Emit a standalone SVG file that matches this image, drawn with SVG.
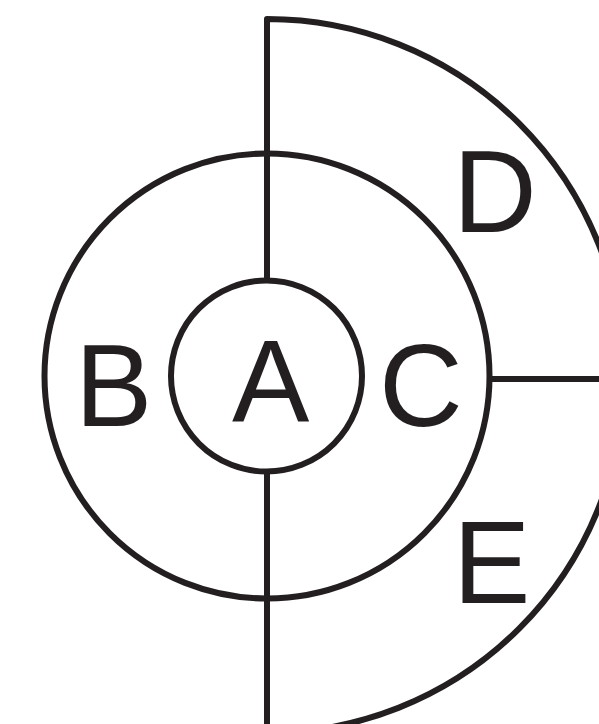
<svg xmlns="http://www.w3.org/2000/svg" width="599" height="724" viewBox="0 0 599 724">
<style>
.ln{fill:none;stroke:#231f20;stroke-width:6;stroke-linejoin:round}
.lb{font-family:"Liberation Sans",Arial,sans-serif;font-size:116px;fill:#231f20}
</style>
<rect width="599" height="724" fill="#fff"/>
<g id="connectors">
<path class="ln" d="M267,280 V19 A357,357 0 0 1 267,733 V472"/>
<path class="ln" d="M490,379 H605"/>
</g>
<g id="node-B"><circle class="ln" cx="267" cy="376" r="222.5"/><text class="lb" x="75" y="426">B</text></g>
<g id="node-A"><circle class="ln" cx="266.5" cy="376" r="95.5"/><text class="lb" x="232" y="422">A</text></g>
<g id="node-C"><text class="lb" x="379" y="426">C</text></g>
<g id="node-D"><text class="lb" x="453" y="232">D</text></g>
<g id="node-E"><text class="lb" x="453" y="603">E</text></g>
</svg>
